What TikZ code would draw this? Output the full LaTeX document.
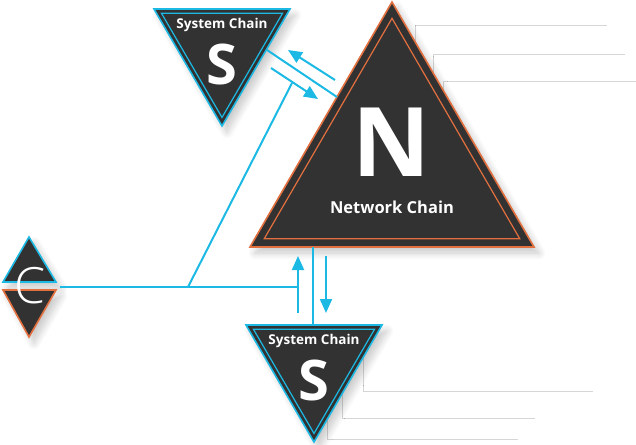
\documentclass[tikz,border=0pt]{standalone}
\usepackage{fontspec}
\setmainfont{Open Sans}
\newfontfamily\thinfont{Open Sans Light}
\usetikzlibrary{arrows.meta,shadows.blur}

\definecolor{chaindark}{HTML}{323232}
\definecolor{chaincyan}{HTML}{1CB9E4}
\definecolor{chainorange}{HTML}{E2703F}
\definecolor{guidegray}{HTML}{D6D6D6}

\tikzset{
  link/.style={draw=chaincyan,line width=2pt},
  flow/.style={link,-{Triangle[length=14pt,width=12pt]}},
  guide/.style={draw=guidegray,line width=1pt},
  syshape/.style={fill=chaindark,draw=chaincyan,line width=1.6pt,line join=miter,
    blur shadow={shadow xshift=5pt,shadow yshift=-6pt,shadow opacity=22,
      shadow blur radius=7pt,shadow blur steps=12}},
  netshape/.style={syshape,draw=chainorange},
  innercyan/.style={draw=chaincyan,line width=1.2pt},
  innerorange/.style={draw=chainorange,line width=1.2pt},
  title/.style={text=white,font=\bfseries\fontsize{13.5}{15}\selectfont,inner sep=0pt},
  letter/.style={text=white,font=\bfseries\fontsize{56}{60}\selectfont,inner sep=0pt}
}

\begin{document}
\begin{tikzpicture}[x=1pt,y=-1pt]
  \useasboundingbox (0,0) rectangle (636,444);

  % gray guide lines, behind the shapes
  \draw[guide] (415,60) -- (415,26) -- (607,26);
  \draw[guide] (433,90) -- (433,54) -- (625,54);
  \draw[guide] (443,110) -- (443,81) -- (636,81);
  \draw[guide] (363,340) -- (363,391) -- (593,391);
  \draw[guide] (342,380) -- (342,418) -- (535,418);
  \draw[guide] (327,420) -- (327,439) -- (518,439);

  % system chain, top
  \begin{scope}[shift={(222,48)}]
    \path[syshape] (-68,-39) -- (68,-39) -- (0,78) -- cycle;
    \draw[innercyan] [scale=0.89] (-68,-39) -- (68,-39) -- (0,78) -- cycle;
  \end{scope}
  \node[title] (topname) at (222,25) {System Chain};
  \node[letter] (topS) at (222,64) {S};

  % system chain, bottom
  \begin{scope}[shift={(314,364)}]
    \path[syshape] (-68,-39) -- (68,-39) -- (0,78) -- cycle;
    \draw[innercyan] [scale=0.89] (-68,-39) -- (68,-39) -- (0,78) -- cycle;
  \end{scope}
  \node[title] (botname) at (314,341) {System Chain};
  \node[letter] (botS) at (314,380) {S};

  % network chain
  \begin{scope}[shift={(392,165)}]
    \path[netshape] (0,-163) -- (142,82) -- (-142,82) -- cycle;
    \draw[innerorange] [scale=0.9] (0,-163) -- (142,82) -- (-142,82) -- cycle;
  \end{scope}
  \node[letter,font=\bfseries\fontsize{96}{100}\selectfont] (bigN) at (392,142) {N};
  \node[title,font=\bfseries\fontsize{16.5}{18}\selectfont] (netname) at (392,207) {Network Chain};

  % client
  \path[syshape] (29,237) -- (56,282) -- (3,282) -- cycle;
  \path[netshape] (3,290) -- (56,290) -- (29,337) -- cycle;
  \node[letter,font=\thinfont\fontsize{50}{54}\selectfont] (client) at (30,286) {C};

  % anchor points of the connectors
  \coordinate (cout) at (60,287);
  \coordinate (fork) at (188,287);
  \coordinate (tee) at (298,287);
  \coordinate (teetop) at (298,256);
  \coordinate (teebot) at (298,313);
  \coordinate (diagend) at (292,83);
  \coordinate (nbase) at (313,247);
  \coordinate (stop) at (313,325);
  \coordinate (downa) at (326,256);
  \coordinate (downb) at (326,313);
  \coordinate (sedge) at (267,50);
  \coordinate (nedge) at (337,97);
  \coordinate (backa) at (335,80);
  \coordinate (backb) at (288,50);
  \coordinate (fwda) at (271,68);
  \coordinate (fwdb) at (318,99);

  % connectors
  \draw[link] (cout) -- (tee);
  \draw[flow] (teebot) -- (teetop);
  \draw[link] (fork) -- (diagend);
  \draw[link] (nbase) -- (stop);
  \draw[flow] (downa) -- (downb);
  \draw[link] (sedge) -- (nedge);
  \draw[flow] (backa) -- (backb);
  \draw[flow] (fwda) -- (fwdb);
\end{tikzpicture}
\end{document}
